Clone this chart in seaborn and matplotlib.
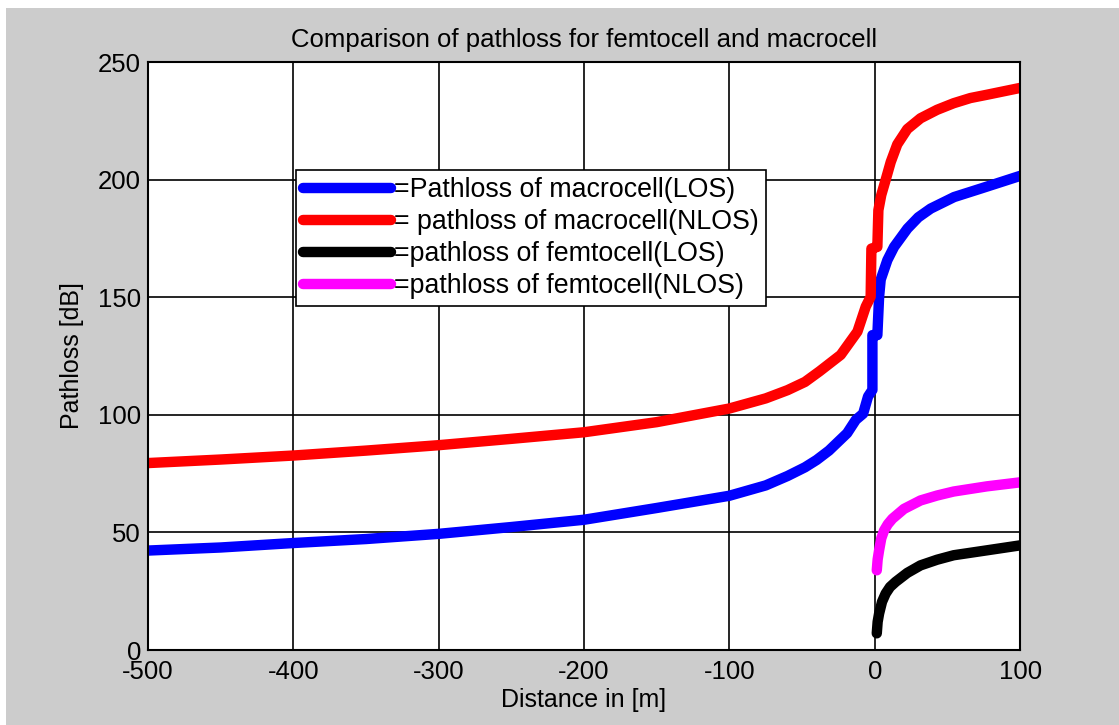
import numpy as np
import pandas as pd
import seaborn as sns
import matplotlib.pyplot as plt
from matplotlib.patches import Rectangle

# values
macro_los_x = [-500, -450, -400, -350, -300, -250, -200, -150, -100, -75, -60, -48, -40,
               -31.5, -19, -13, -8, -4.6, -1.6,
               -1.6, 1.8, 3.0, 4.1, 8.7, 13.3, 22.5, 30, 38.5, 54.6, 72.9, 100]
macro_los_y = [42.3, 43.6, 45.5, 47.2, 49.4, 52.3, 55.4, 60.4, 65.6, 70.0, 74.0, 77.7, 80.8,
               84.8, 92.2, 97.9, 100.5, 107.8, 110.6,
               133.9, 133.9, 150.2, 157.5, 165.8, 171.4, 179.2, 184.0, 187.7, 192.6, 196.2, 201.6]

macro_nlos_x = [-500, -450, -400, -350, -300, -250, -200, -150, -100, -75, -60, -48, -38,
                -23.4, -11.9, -6.2, -2.8,
                -2.3, 1.8, 2.5, 4.5, 7.0, 11.0, 15.5, 22.4, 31.5, 42.9, 54.3, 65.8, 77.2, 100]
macro_nlos_y = [79.5, 81.0, 82.7, 84.8, 87.1, 89.8, 92.6, 96.9, 102.7, 107.0, 110.5, 114.0, 118.5,
                125.5, 135.4, 146.0, 150.2,
                170.7, 171.4, 187.0, 193.5, 198.8, 207.5, 215.0, 221.5, 226.1, 229.7, 232.5,
                234.7, 236.1, 239.0]

femto_los_x = [1.4, 2.0, 3.0, 5.0, 7.5, 10.5, 14.4, 22.4, 31.5, 42.9, 54.3, 77.2, 100]
femto_los_y = [7.1, 12.0, 15.5, 20.5, 24.0, 26.8, 29.0, 32.8, 36.0, 38.4, 40.3, 42.4, 44.5]

femto_nlos_x = [1.4, 2.0, 3.0, 4.5, 6.4, 9.0, 12.1, 20.1, 31.5, 42.9, 54.3, 77.2, 100]
femto_nlos_y = [33.9, 38.5, 42.4, 47.5, 50.8, 53.5, 55.8, 60.0, 63.6, 65.7, 67.4, 69.6, 71.3]

labels = ['=Pathloss of macrocell(LOS)', '= pathloss of macrocell(NLOS)',
          '=pathloss of femtocell(LOS)', '=pathloss of femtocell(NLOS)']
colors = ['blue', 'red', 'black', 'magenta']

series = [
    (macro_los_x, macro_los_y),
    (macro_nlos_x, macro_nlos_y),
    (femto_los_x, femto_los_y),
    (femto_nlos_x, femto_nlos_y),
]

sns.set_style('whitegrid')
plt.rcParams['font.family'] = ['Liberation Sans', 'DejaVu Sans']
plt.rcParams['axes.unicode_minus'] = False
plt.rcParams['text.color'] = 'black'
plt.rcParams['axes.labelcolor'] = 'black'

fig = plt.figure(figsize=(11.19, 7.25), dpi=100, facecolor='white')
fig.patches.append(Rectangle((6 / 1119, 0), 1, 1 - 8 / 725, transform=fig.transFigure,
                             facecolor='#cccccc', edgecolor='none', zorder=-10))
ax = fig.add_axes([0.1323, 0.1034, 0.7793, 0.811])

for (xs, ys), lab, col in zip(series, labels, colors):
    df = pd.DataFrame({'x': xs, 'y': ys})
    sns.lineplot(data=df, x='x', y='y', sort=False, estimator=None, color=col,
                 linewidth=7.5, label=lab, ax=ax, solid_capstyle='round',
                 solid_joinstyle='round')

ax.set_xlim(-500, 100)
ax.set_ylim(0, 250)
ax.set_xticks(np.arange(-500, 101, 100))
ax.set_yticks(np.arange(0, 251, 50))
ax.grid(True, color='black', linewidth=1.2, linestyle='-')
ax.set_axisbelow(True)
for sp in ax.spines.values():
    sp.set_color('black')
    sp.set_linewidth(1.5)
ax.tick_params(length=0, labelsize=18.5, colors='black')
ax.tick_params(axis='x', pad=7)
ax.tick_params(axis='y', pad=5)

ax.set_title('Comparison of pathloss for femtocell and macrocell', fontsize=18.5, pad=11,
             color='black')
ax.set_xlabel('Distance in [m]', fontsize=18, labelpad=3)
ax.set_ylabel('Pathloss [dB]', fontsize=18, labelpad=10)

leg = ax.legend(loc='upper left', bbox_to_anchor=(0.1697, 0.816), borderaxespad=0,
                frameon=True, fancybox=False, edgecolor='black', framealpha=1,
                fontsize=19.3, handlelength=3.3, labelspacing=0.22, handletextpad=0.1,
                borderpad=0.26)
leg.get_frame().set_linewidth(1.2)

plt.savefig('out.png', dpi=100, facecolor=fig.get_facecolor())
